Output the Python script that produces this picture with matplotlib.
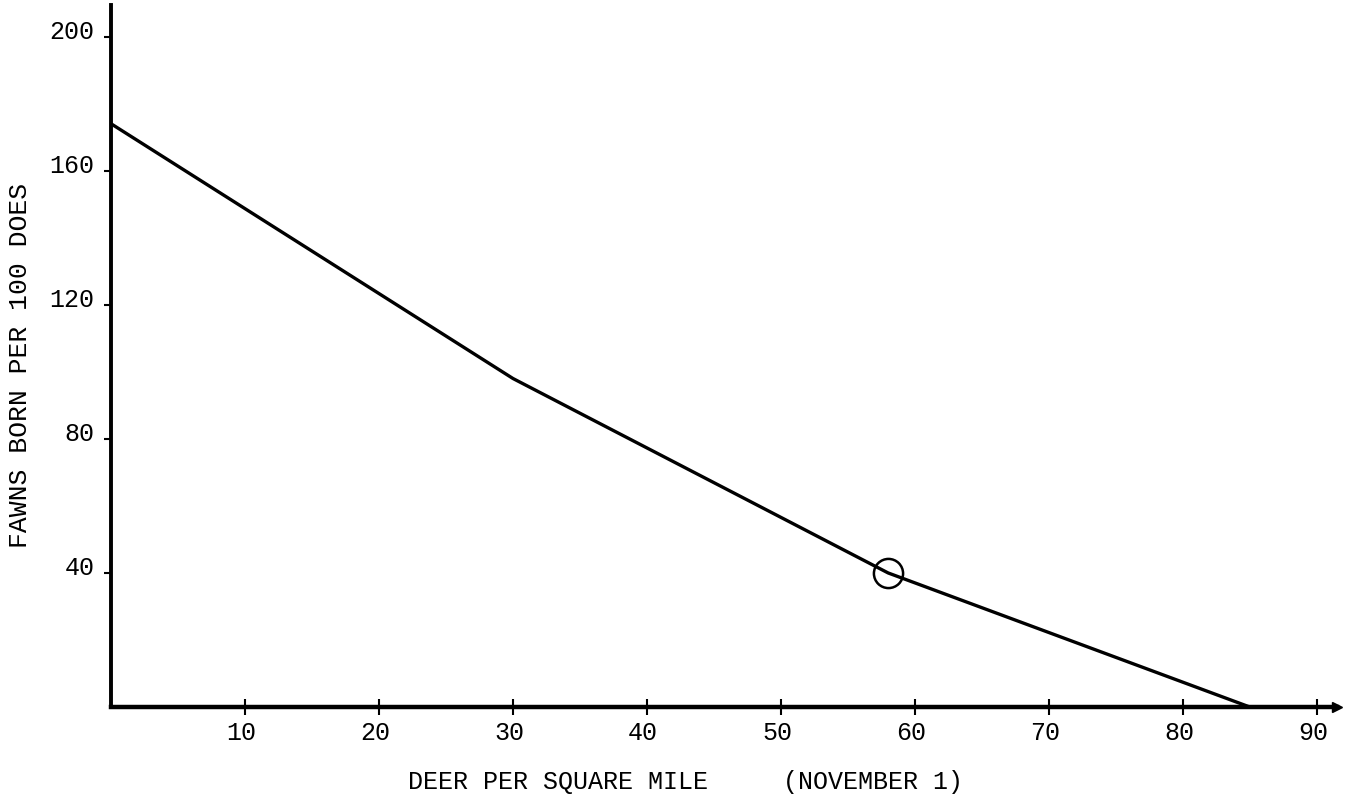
import numpy as np
import matplotlib
matplotlib.use('Agg')
import matplotlib.pyplot as plt
import matplotlib.transforms as mtransforms

# curve
deer = [0, 30, 58, 85]
fawns = [174, 98, 40, 0]

# the circled point
mark_x = [58]
mark_y = [40]

xticks = [10, 20, 30, 40, 50, 60, 70, 80, 90]
yticks = [40, 80, 120, 160, 200]

plt.rcParams['font.family'] = ['Liberation Mono', 'DejaVu Sans Mono']

fig = plt.figure(figsize=(13.47, 8.12), dpi=100)
ax = fig.add_axes([0.0824, 0.128, 0.9102, 0.865])

ax.plot(deer, fawns, color='black', lw=2.4, solid_joinstyle='round', solid_capstyle='round')
ax.plot(mark_x, mark_y, 'o', mfc='none', mec='black', ms=21, mew=1.8)

ax.set_xlim(0, 91.5)
ax.set_ylim(0, 209.5)

for side in ['top', 'right']:
    ax.spines[side].set_visible(False)
ax.spines['left'].set_linewidth(2.8)
ax.spines['bottom'].set_linewidth(3.2)

# little arrow head on the x axis
ax.plot(1, 0, '>', color='black', ms=7, transform=ax.get_yaxis_transform(), clip_on=False)

ax.set_xticks(xticks)
ax.set_xticklabels([str(v) for v in xticks])
ax.set_yticks(yticks)
ax.set_yticklabels([str(v) for v in yticks])

ax.tick_params(axis='x', direction='inout', length=12, width=1.5, labelsize=18, pad=3)
ax.tick_params(axis='y', direction='out', length=5, width=1.5, labelsize=18, pad=7)

# typewritten numbers sit a bit above their ticks
up = mtransforms.ScaledTranslation(0, 8 / 100, fig.dpi_scale_trans)
for lab in ax.get_yticklabels():
    lab.set_transform(lab.get_transform() + up)
left = mtransforms.ScaledTranslation(-4 / 100, 0, fig.dpi_scale_trans)
for lab in ax.get_xticklabels():
    lab.set_transform(lab.get_transform() + left)

fig.text(0.509, 1 - 782 / 812, 'DEER PER SQUARE MILE     (NOVEMBER 1)',
         ha='center', va='center', fontsize=18)
fig.text(20 / 1347, 1 - 365 / 812, 'FAWNS BORN PER 100 DOES',
         ha='center', va='center', rotation=90, fontsize=19)

fig.savefig('out.png', dpi=100)
